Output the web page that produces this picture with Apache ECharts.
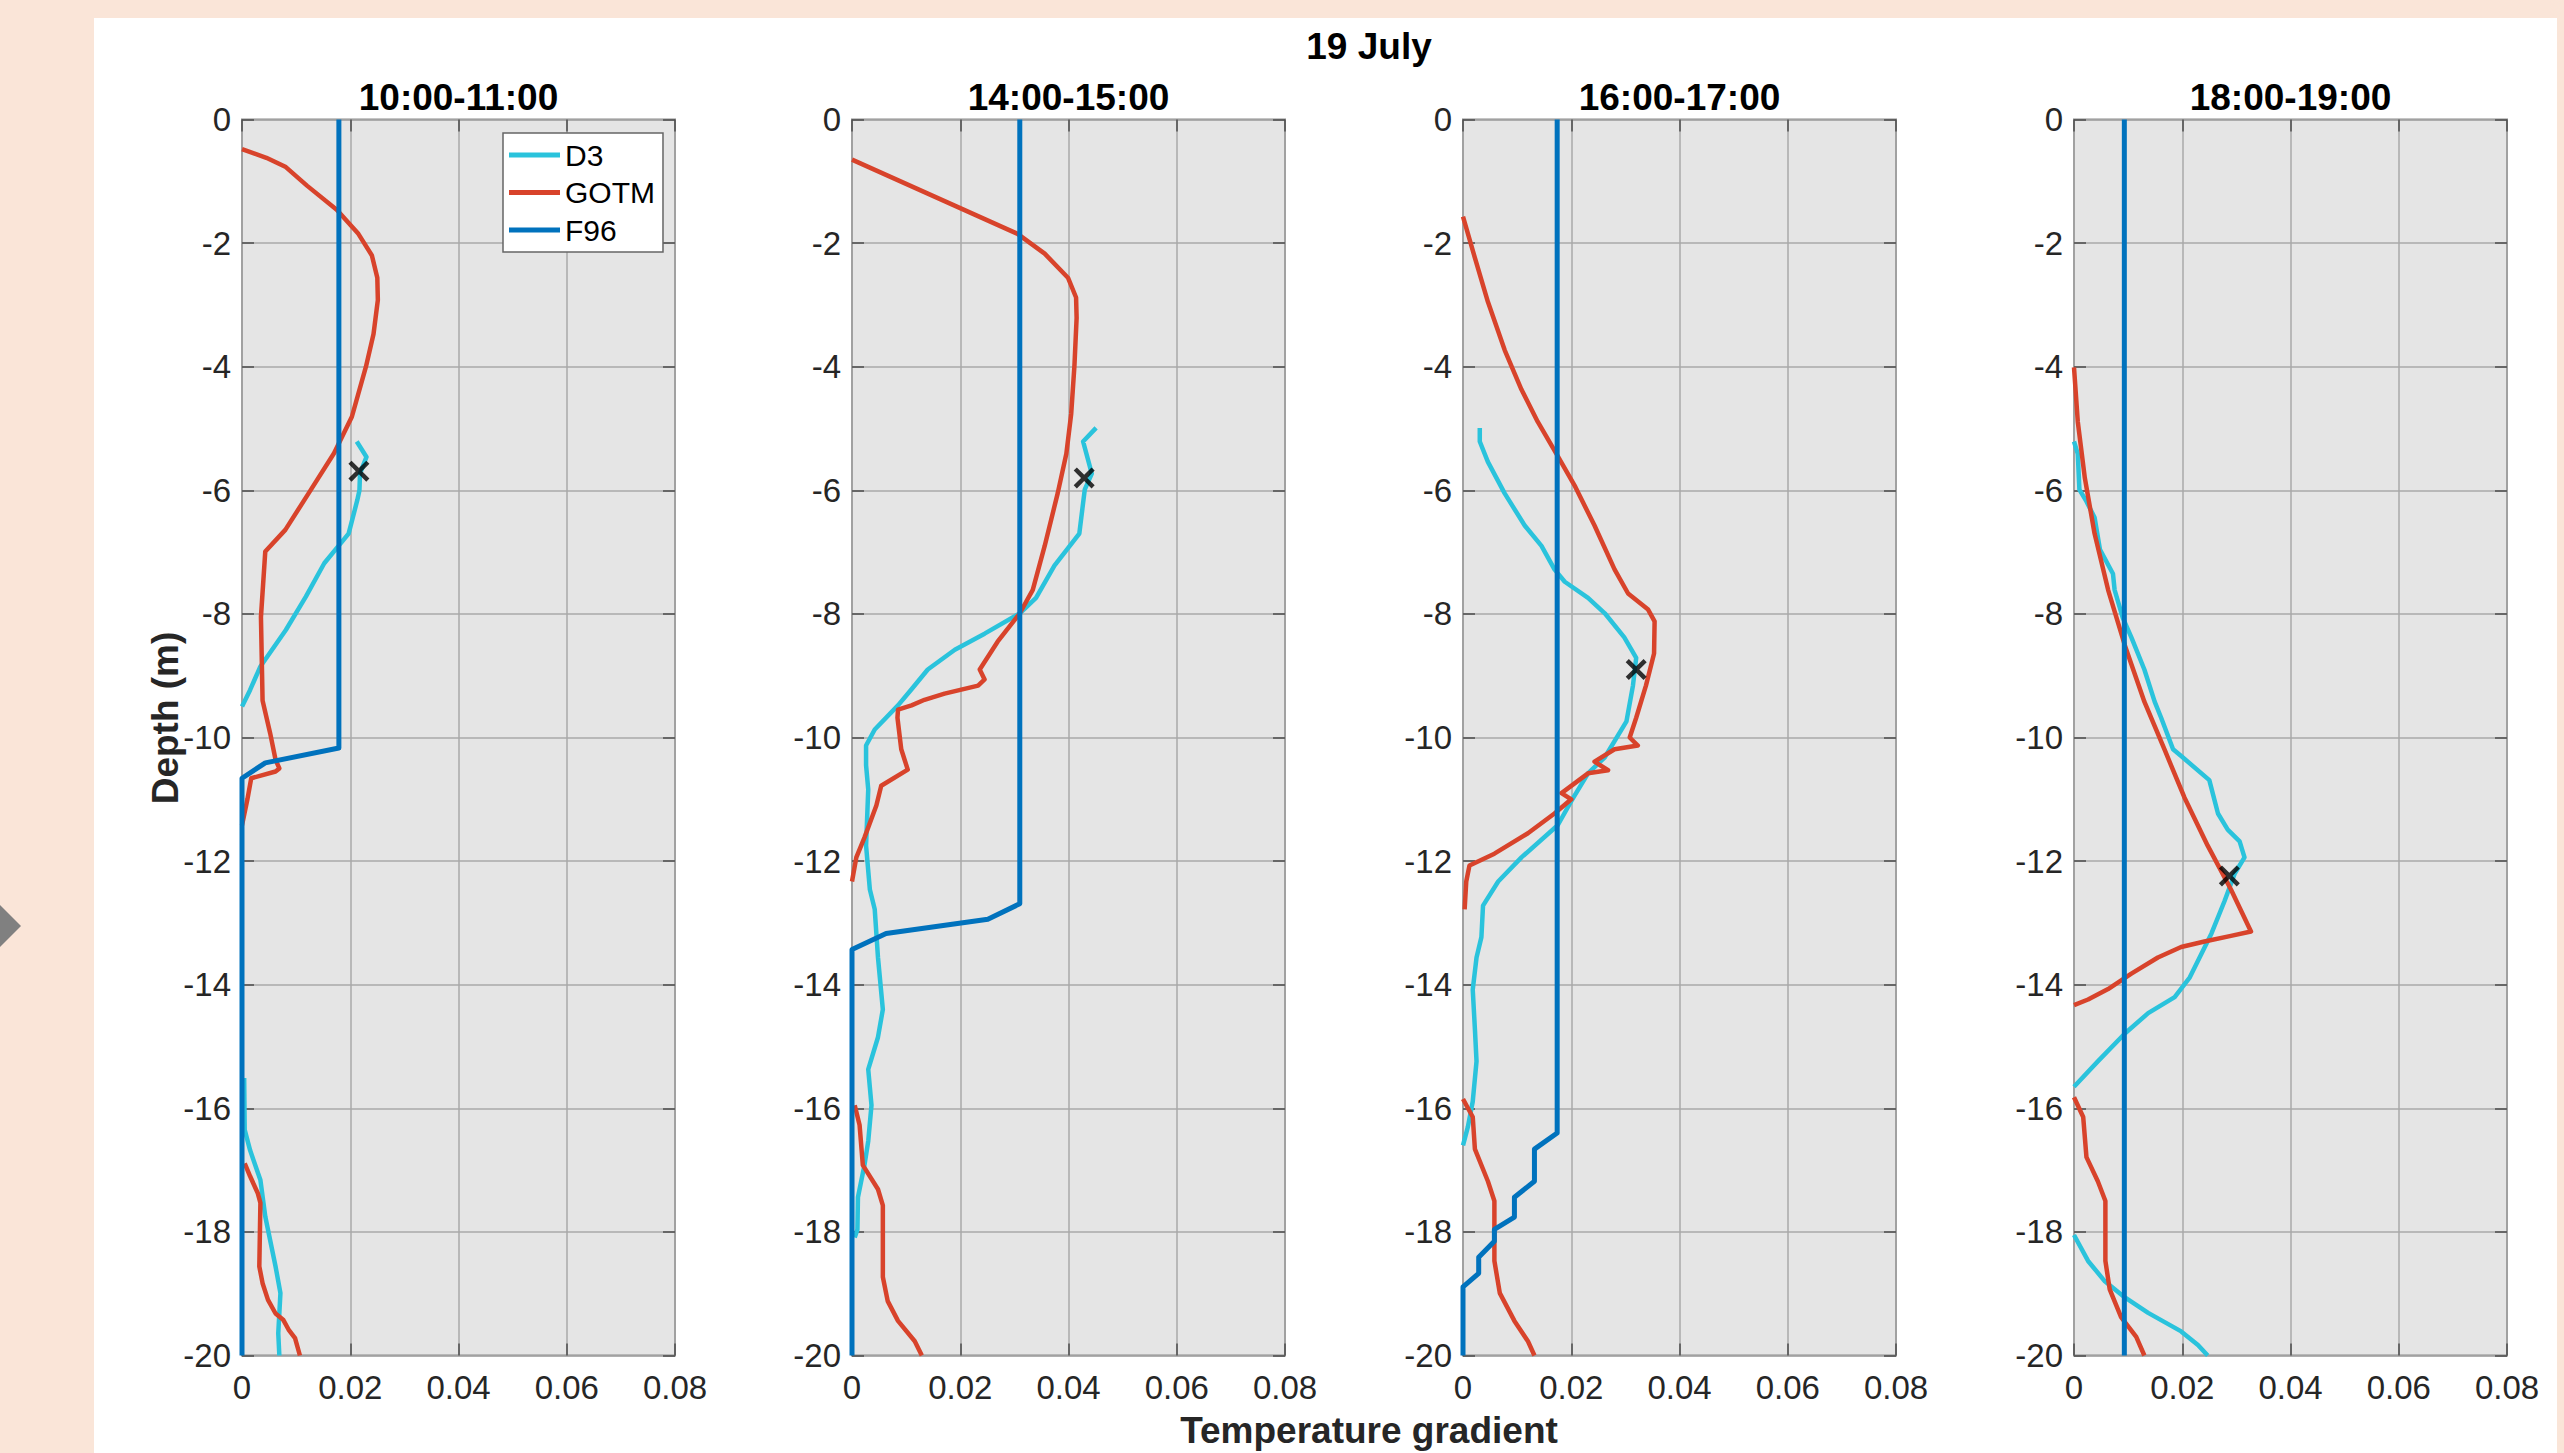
<!DOCTYPE html>
<html>
<head>
<meta charset="utf-8">
<script src="https://cdn.jsdelivr.net/npm/echarts@6/dist/echarts.min.js"></script>
<style>
  html, body { margin:0; padding:0; background:#FAE5D8; width:2564px; height:1453px; overflow:hidden; }
  #sheet { position:absolute; left:94px; top:18px; width:2463px; height:1435px; background:#ffffff; }
  #chart { position:absolute; left:0; top:0; width:2564px; height:1453px; }
</style>
</head>
<body>
<div id="sheet"></div>
<div id="chart"></div>
<script>
// ---------- data (temperature gradient vs depth) ----------
const panelTitles = ['10:00-11:00', '14:00-15:00', '16:00-17:00', '18:00-19:00'];
const seriesNames = ['D3', 'GOTM', 'F96'];
const xTicks = [0, 0.02, 0.04, 0.06, 0.08];
const yTicks = [0, -2, -4, -6, -8, -10, -12, -14, -16, -18, -20];

// Panel 1: 10:00-11:00
const p1_d3_grad  = [0.0212, 0.0230, 0.0218, 0.0217, 0.0213, 0.0197, 0.0152, 0.0118, 0.0081, 0.0034, 0.0015, 0, null, 0.0004, 0.0005, 0.0015, 0.0034, 0.0043, 0.0062, 0.0071, 0.0067, 0.0069];
const p1_d3_depth = [-5.21, -5.46, -5.73, -6.0, -6.16, -6.7, -7.18, -7.72, -8.26, -8.85, -9.23, -9.5, null, -15.51, -16.35, -16.68, -17.16, -17.75, -18.56, -18.99, -19.64, -20];
const p1_gotm_grad  = [0, 0.0045, 0.0081, 0.0120, 0.0175, 0.0215, 0.0240, 0.0250, 0.0251, 0.0243, 0.0229, 0.0203, 0.0170, 0.0123, 0.0080, 0.0043, 0.0035, 0.0038, 0.0052, 0.0062, 0.0069, 0.0062, 0.0017, 0.0010, 0, null, 0.0005, 0.0015, 0.0029, 0.0034, 0.0032, 0.0038, 0.0048, 0.0062, 0.0076, 0.0086, 0.0098, 0.0107];
const p1_gotm_depth = [-0.48, -0.62, -0.77, -1.07, -1.46, -1.85, -2.2, -2.56, -2.92, -3.47, -4.0, -4.81, -5.4, -6.05, -6.64, -6.99, -8.05, -9.4, -9.93, -10.36, -10.5, -10.55, -10.66, -11.0, -11.42, null, -16.89, -17.1, -17.37, -17.53, -18.56, -18.83, -19.1, -19.32, -19.42, -19.58, -19.72, -20];
const p1_f96_grad  = [0.0179, 0.0179, 0.0043, 0, 0];
const p1_f96_depth = [0, -10.17, -10.41, -10.66, -20];
const p1_mark = [0.0216, -5.69];

// Panel 2: 14:00-15:00
const p2_d3_grad  = [0.0451, 0.0427, 0.0443, 0.0430, 0.0420, 0.0374, 0.0340, 0.0310, 0.0245, 0.0190, 0.0140, 0.0110, 0.0085, 0.0042, 0.0026, 0.0026, 0.0030, 0.0026, 0.0033, 0.0042, 0.0048, 0.0057, 0.0048, 0.0030, 0.0036, 0.0030, 0.0023, 0.0011, 0.0010, 0.0005];
const p2_d3_depth = [-4.99, -5.21, -5.73, -5.99, -6.7, -7.22, -7.74, -7.99, -8.32, -8.58, -8.9, -9.22, -9.48, -9.87, -10.13, -10.45, -10.84, -11.75, -12.46, -12.78, -13.56, -14.4, -14.85, -15.37, -15.95, -16.53, -16.92, -17.44, -17.96, -18.09];
const p2_gotm_grad  = [0, 0.0306, 0.0356, 0.0399, 0.0414, 0.0415, 0.0411, 0.0405, 0.0396, 0.0380, 0.0356, 0.0334, 0.0310, 0.0269, 0.0236, 0.0245, 0.0233, 0.0171, 0.0134, 0.0110, 0.0085, 0.0084, 0.0091, 0.0103, 0.0054, 0.0045, 0.0023, 0.0008, 0, null, 0.0005, 0.0014, 0.0020, 0.0048, 0.0057, 0.0057, 0.0066, 0.0085, 0.0116, 0.0129];
const p2_gotm_depth = [-0.65, -1.85, -2.17, -2.56, -2.88, -3.21, -3.98, -4.76, -5.41, -6.05, -6.9, -7.61, -7.99, -8.45, -8.9, -9.06, -9.16, -9.29, -9.39, -9.48, -9.55, -9.68, -10.19, -10.52, -10.78, -11.1, -11.62, -11.94, -12.33, null, -15.95, -16.27, -16.92, -17.31, -17.57, -18.73, -19.12, -19.44, -19.77, -20];
const p2_f96_grad  = [0.0310, 0.0310, 0.0251, 0.0063, 0, 0];
const p2_f96_depth = [0, -12.69, -12.94, -13.17, -13.43, -20];
const p2_mark = [0.0429, -5.8];

// Panel 3: 16:00-17:00
const p3_d3_grad  = [0.0031, 0.0031, 0.0046, 0.0077, 0.0114, 0.0145, 0.0169, 0.0188, 0.0231, 0.0262, 0.0298, 0.0320, 0.0314, 0.0302, 0.0262, 0.0231, 0.0200, 0.0175, 0.0108, 0.0065, 0.0037, 0.0034, 0.0025, 0.0018, 0.0022, 0.0025, 0.0018, 0.0009, 0];
const p3_d3_depth = [-4.99, -5.21, -5.54, -6.05, -6.57, -6.9, -7.28, -7.48, -7.74, -7.99, -8.38, -8.71, -9.16, -9.74, -10.32, -10.58, -11.03, -11.42, -11.94, -12.33, -12.72, -13.23, -13.56, -14.08, -14.72, -15.24, -15.89, -16.3, -16.6];
const p3_gotm_grad  = [0, 0.0022, 0.0046, 0.0077, 0.0108, 0.0138, 0.0174, 0.0206, 0.0243, 0.0280, 0.0305, 0.0342, 0.0354, 0.0353, 0.0338, 0.0320, 0.0308, 0.0323, 0.0280, 0.0243, 0.0268, 0.0231, 0.0182, 0.0200, 0.0169, 0.0120, 0.0058, 0.0012, 0.0006, 0.0003, null, 0, 0.0018, 0.0022, 0.0046, 0.0058, 0.0058, 0.0068, 0.0095, 0.0120, 0.0132];
const p3_gotm_depth = [-1.57, -2.24, -2.95, -3.73, -4.37, -4.89, -5.43, -5.92, -6.57, -7.28, -7.67, -7.93, -8.12, -8.64, -9.16, -9.68, -10.0, -10.13, -10.19, -10.39, -10.53, -10.58, -10.9, -11.0, -11.23, -11.55, -11.88, -12.07, -12.33, -12.78, null, -15.85, -16.14, -16.66, -17.18, -17.5, -18.47, -18.99, -19.44, -19.77, -20];
const p3_f96_grad  = [0.0174, 0.0174, 0.0132, 0.0132, 0.0095, 0.0095, 0.0058, 0.0058, 0.0029, 0.0029, 0, 0];
const p3_f96_depth = [0, -16.4, -16.66, -17.18, -17.44, -17.76, -17.96, -18.15, -18.41, -18.67, -18.89, -20];
const p3_mark = [0.0320, -8.9];

// Panel 4: 18:00-19:00
const p4_d3_grad  = [0, 0.0007, 0.0010, 0.0023, 0.0038, 0.0048, 0.0072, 0.0075, 0.0090, 0.0106, 0.0130, 0.0149, 0.0161, 0.0183, 0.0198, 0.0250, 0.0266, 0.0284, 0.0306, 0.0315, 0.0297, 0.0278, 0.0254, 0.0214, 0.0186, 0.0137, 0.0094, 0.0044, 0, null, 0, 0.0026, 0.0057, 0.0094, 0.0137, 0.0198, 0.0229, 0.0247];
const p4_d3_depth = [-5.21, -5.41, -5.99, -6.18, -6.44, -6.96, -7.35, -7.61, -8.06, -8.38, -8.9, -9.42, -9.68, -10.19, -10.3, -10.69, -11.23, -11.49, -11.68, -11.94, -12.2, -12.65, -13.17, -13.88, -14.2, -14.46, -14.79, -15.24, -15.65, null, -18.05, -18.47, -18.8, -19.06, -19.31, -19.61, -19.83, -20];
const p4_gotm_grad  = [0, 0.0007, 0.0020, 0.0038, 0.0063, 0.0094, 0.0130, 0.0167, 0.0204, 0.0247, 0.0290, 0.0327, 0.0290, 0.0241, 0.0198, 0.0155, 0.0106, 0.0063, 0.0026, 0, null, 0, 0.0017, 0.0023, 0.0044, 0.0058, 0.0058, 0.0066, 0.0087, 0.0115, 0.0130];
const p4_gotm_depth = [-4.01, -4.89, -5.8, -6.7, -7.61, -8.51, -9.42, -10.19, -10.97, -11.75, -12.46, -13.14, -13.21, -13.3, -13.39, -13.56, -13.82, -14.07, -14.24, -14.33, null, -15.82, -16.14, -16.79, -17.18, -17.5, -18.47, -18.93, -19.38, -19.7, -20];
const p4_f96_grad  = [0.0093, 0.0093];
const p4_f96_depth = [0, -20];
const p4_mark = [0.0287, -12.24];

// ---------- styling / layout ----------
const FONT = 'Liberation Sans, Arial, Helvetica, sans-serif';
const COLORS = { D3: '#2AC3DC', GOTM: '#D8432B', F96: '#0072BD' };
const WIDTHS = { D3: 4.5, GOTM: 4.5, F96: 5 };
const gridLefts = [242, 852, 1463, 2074];
const gridTop = 119.5, gridW = 433, gridH = 1236;

const panels = [
  { D3: [p1_d3_grad, p1_d3_depth], GOTM: [p1_gotm_grad, p1_gotm_depth], F96: [p1_f96_grad, p1_f96_depth], mark: p1_mark },
  { D3: [p2_d3_grad, p2_d3_depth], GOTM: [p2_gotm_grad, p2_gotm_depth], F96: [p2_f96_grad, p2_f96_depth], mark: p2_mark },
  { D3: [p3_d3_grad, p3_d3_depth], GOTM: [p3_gotm_grad, p3_gotm_depth], F96: [p3_f96_grad, p3_f96_depth], mark: p3_mark },
  { D3: [p4_d3_grad, p4_d3_depth], GOTM: [p4_gotm_grad, p4_gotm_depth], F96: [p4_f96_grad, p4_f96_depth], mark: p4_mark }
];

function pairs(g, d) {
  return g.map((v, i) => (v === null || d[i] === null) ? ['-', '-'] : [v, d[i]]);
}

const CROSS = 'path://M0,1.5 L1.5,0 L5,3.5 L8.5,0 L10,1.5 L6.5,5 L10,8.5 L8.5,10 L5,6.5 L1.5,10 L0,8.5 L3.5,5 Z';

const grid = [], xAxis = [], yAxis = [], series = [];
const xMin = xTicks[0], xMax = xTicks[xTicks.length - 1], xInt = xTicks[1] - xTicks[0];
const yMin = yTicks[yTicks.length - 1], yMax = yTicks[0], yInt = yTicks[0] - yTicks[1];

function tickStyle() {
  return { show: true, inside: true, length: 12, lineStyle: { color: '#4D4D4D', width: 1.5 } };
}
function hiddenLine() { return { show: false, onZero: false }; }

panels.forEach((p, i) => {
  grid.push({ left: gridLefts[i], top: gridTop, width: gridW, height: gridH,
              show: true, backgroundColor: '#E5E5E5', borderColor: '#8C8C8C', borderWidth: 2 });
  xAxis.push({ type: 'value', gridIndex: i, position: 'bottom', min: xMin, max: xMax, interval: xInt,
    axisLine: hiddenLine(), axisTick: tickStyle(),
    axisLabel: { show: true, fontSize: 33, color: '#262626', fontFamily: FONT, margin: 15,
                 formatter: v => String(Math.round(v * 100) / 100) },
    splitLine: { show: true, lineStyle: { color: '#A8A8A8', width: 1.5 } } });
  xAxis.push({ type: 'value', gridIndex: i, position: 'top', min: xMin, max: xMax, interval: xInt,
    axisLine: hiddenLine(), axisTick: tickStyle(), axisLabel: { show: false }, splitLine: { show: false } });
  yAxis.push({ type: 'value', gridIndex: i, position: 'left', min: yMin, max: yMax, interval: yInt,
    axisLine: hiddenLine(), axisTick: tickStyle(),
    axisLabel: { show: true, fontSize: 33, color: '#262626', fontFamily: FONT, margin: 11 },
    splitLine: { show: true, lineStyle: { color: '#A8A8A8', width: 1.5 } } });
  yAxis.push({ type: 'value', gridIndex: i, position: 'right', min: yMin, max: yMax, interval: yInt,
    axisLine: hiddenLine(), axisTick: tickStyle(), axisLabel: { show: false }, splitLine: { show: false } });

  seriesNames.forEach(name => {
    series.push({ type: 'line', name: name, xAxisIndex: 2 * i, yAxisIndex: 2 * i,
      data: pairs(p[name][0], p[name][1]), showSymbol: false, symbol: 'none', connectNulls: false,
      color: COLORS[name], lineStyle: { color: COLORS[name], width: WIDTHS[name], join: 'round', cap: 'butt' },
      emphasis: { disabled: true }, silent: true, z: 3 });
  });
  series.push({ type: 'scatter', name: 'max', xAxisIndex: 2 * i, yAxisIndex: 2 * i,
    data: [p.mark], symbol: CROSS, symbolSize: 21, itemStyle: { color: '#000' },
    emphasis: { disabled: true }, silent: true, z: 5 });
});

const graphic = [
  { type: 'polygon', shape: { points: [[0, 905], [21, 926], [0, 947]] }, style: { fill: '#808080' } },
  { type: 'text', x: 1369, y: 46, style: { text: '19 July', font: 'bold 37px ' + FONT, fill: '#000', align: 'center', verticalAlign: 'middle' } },
  { type: 'text', x: 1369, y: 1430, style: { text: 'Temperature gradient', font: 'bold 37px ' + FONT, fill: '#262626', align: 'center', verticalAlign: 'middle' } },
  { type: 'text', x: 165, y: 718, rotation: Math.PI / 2, style: { text: 'Depth (m)', font: 'bold 37px ' + FONT, fill: '#262626', align: 'center', verticalAlign: 'middle' } }
];
panelTitles.forEach((t, i) => {
  graphic.push({ type: 'text', x: gridLefts[i] + gridW / 2, y: 97,
    style: { text: t, font: 'bold 37px ' + FONT, fill: '#000', align: 'center', verticalAlign: 'middle' } });
});

const chart = echarts.init(document.getElementById('chart'), null, { renderer: 'svg', width: 2564, height: 1453 });
chart.setOption({
  backgroundColor: 'transparent',
  animation: false,
  textStyle: { fontFamily: FONT },
  grid: grid, xAxis: xAxis, yAxis: yAxis, series: series, graphic: graphic,
  legend: {
    left: 503, top: 133, orient: 'vertical',
    data: seriesNames.map(n => ({ name: n, icon: 'rect' })),
    itemWidth: 51, itemHeight: 5, itemGap: 7.5, padding: [7, 8, 7, 6],
    backgroundColor: '#FFFFFF', borderColor: '#666666', borderWidth: 1.5, borderRadius: 0,
    textStyle: { fontSize: 30, color: '#000', fontFamily: FONT },
    selectedMode: false
  }
});
</script>
</body>
</html>
